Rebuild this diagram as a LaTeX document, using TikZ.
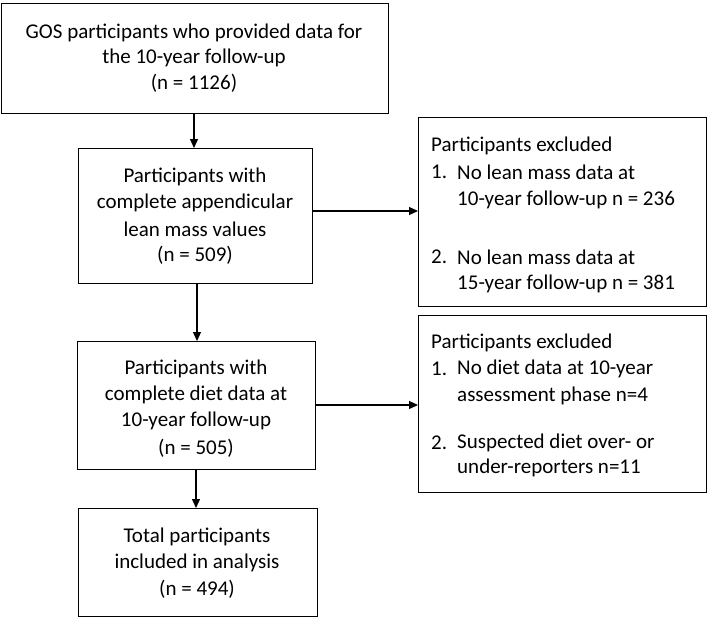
\documentclass[tikz,border=0pt]{standalone}
\usepackage{fontspec}
\setmainfont{Carlito}
\usetikzlibrary{arrows.meta}
\begin{document}
\begin{tikzpicture}[x=1pt,y=-1pt,
  box/.style={draw,line width=1.4pt,inner sep=0pt,anchor=north west},
  txt/.style={font=\fontsize{21}{24}\selectfont,inner sep=0pt},
  lt/.style={txt,anchor=west},
  arr/.style={-{Triangle[length=9pt,width=8pt]},line width=1.2pt}]
\useasboundingbox (0,0) rectangle (708,619);
\node[box,minimum width=387pt,minimum height=110pt] (b1) at (1,3) {};
\node[box,minimum width=234pt,minimum height=135pt] (b2) at (78,148) {};
\node[box,minimum width=238pt,minimum height=128pt] (b3) at (77,341) {};
\node[box,minimum width=239pt,minimum height=108pt] (b4) at (78,508) {};
\node[box,minimum width=288pt,minimum height=189pt] (r1) at (418,117) {};
\node[box,minimum width=288pt,minimum height=177pt] (r2) at (418,315) {};
\node[txt] (t11) at (194,33) {GOS participants who provided data for};
\node[txt] (t12) at (194,58) {the 10-year follow-up};
\node[txt] (t13) at (194,83) {(n = 1126)};
\node[txt] (t21) at (195,177) {Participants with};
\node[txt] (t22) at (195,203) {complete appendicular};
\node[txt] (t23) at (195,229) {lean mass values};
\node[txt] (t24) at (195,255) {(n = 509)};
\node[txt] (t31) at (196,369) {Participants with};
\node[txt] (t32) at (196,395) {complete diet data at};
\node[txt] (t33) at (196,421) {10-year follow-up};
\node[txt] (t34) at (196,448) {(n = 505)};
\node[txt] (t41) at (197,537) {Total participants};
\node[txt] (t42) at (197,563) {included in analysis};
\node[txt] (t43) at (197,589) {(n = 494)};
\node[lt] (u0) at (431,146) {Participants excluded};
\node[lt] (u1) at (431,172) {1.};
\node[lt] (u1b) at (457,172) {No lean mass data at};
\node[lt] (u2) at (457,200) {10-year follow-up n = 236};
\node[lt] (u3) at (431,257) {2.};
\node[lt] (u3b) at (457,257) {No lean mass data at};
\node[lt] (u4) at (457,284) {15-year follow-up n = 381};
\node[lt] (v0) at (431,343) {Participants excluded};
\node[lt] (v1) at (431,369) {1.};
\node[lt] (v1b) at (457,369) {No diet data at 10-year};
\node[lt] (v2) at (457,396) {assessment phase n=4};
\node[lt] (v3) at (431,443) {2.};
\node[lt] (v3b) at (457,443) {Suspected diet over- or};
\node[lt] (v4) at (457,468) {under-reporters n=11};
\draw[arr] (194,113) -- (194,148);
\draw[arr] (197,283) -- (197,341);
\draw[arr] (196,469) -- (196,508);
\draw[arr] (b2.east |- 0,211) -- (r1.west |- 0,211);
\draw[arr] (b3.east |- 0,405) -- (r2.west |- 0,405);
\end{tikzpicture}
\end{document}
